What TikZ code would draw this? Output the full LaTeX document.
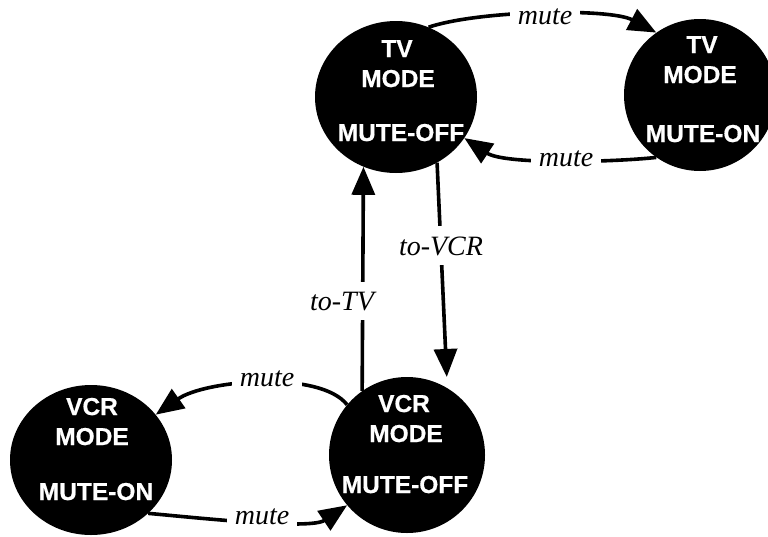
\documentclass[tikz,border=0pt]{standalone}
\usepackage{fontspec}
\usetikzlibrary{arrows.meta,shapes.geometric}
\newfontfamily\statefont{Liberation Sans}[BoldFeatures={FakeBold=0.6}]
\newfontfamily\edgefont{Liberation Serif}
\tikzset{
  state/.style={ellipse, fill=black, draw=none, inner sep=0pt},
  caption/.style={text=white, anchor=base, inner sep=0pt,
    font=\statefont\bfseries\fontsize{24.5}{28}\selectfont},
  trans/.style={line width=3.6pt, -{Triangle[length=28pt,width=23pt]}},
  lbl/.style={fill=white, anchor=base, inner xsep=8pt, inner ysep=4pt,
    font=\edgefont\itshape\fontsize{28}{30}\selectfont},
  vlbl/.style={lbl, inner xsep=3pt, inner ysep=10pt},
}
\begin{document}
\begin{tikzpicture}[x=1pt,y=-1pt]
\path[use as bounding box] (0,0) rectangle (768,536);

% states
\node[state, minimum width=162pt, minimum height=152pt] (tvoff) at (396,97) {};
\node[state, minimum width=152pt, minimum height=152pt] (tvon) at (700,95) {};
\node[state, minimum width=162pt, minimum height=150pt] (vcron) at (91,460) {};
\node[state, minimum width=156pt, minimum height=156pt] (vcroff) at (407,455) {};

% state captions
\node[caption] (tvoff-a) at (397,57) {TV};
\node[caption] (tvoff-b) at (398,87) {MODE};
\node[caption] (tvoff-c) at (401,141) {MUTE-OFF};

\node[caption] (tvon-a) at (702,53) {TV};
\node[caption] (tvon-b) at (700,83) {MODE};
\node[caption] (tvon-c) at (703,142) {MUTE-ON};

\node[caption] (vcron-a) at (92,415) {VCR};
\node[caption] (vcron-b) at (92,445) {MODE};
\node[caption] (vcron-c) at (96,500) {MUTE-ON};

\node[caption] (vcroff-a) at (404,412) {VCR};
\node[caption] (vcroff-b) at (406,442) {MODE};
\node[caption] (vcroff-c) at (405,493) {MUTE-OFF};

% transitions
\draw[trans] (tvoff.65) .. controls (480,10) and (610,8) .. (tvon.125);
\draw[trans] (tvon.235) .. controls (615,162) and (505,165) .. (tvoff.-31);
\draw[trans, shorten >=11pt] (tvoff.-58) -- (vcroff.59);
\draw[trans] (vcroff.125) -- (tvoff.245);
\draw[trans] (vcroff.140) .. controls (320,370) and (205,380) .. (vcron.35);
\draw[trans] (vcron.-43) .. controls (200,518) and (310,530) .. (vcroff.220);

% transition labels
\node[lbl] (l-tvmute) at (545,24) {mute};
\node[lbl] (l-tvunmute) at (566,166) {mute};
\node[vlbl] (l-tovcr) at (441,255) {to-VCR};
\node[vlbl] (l-totv) at (342,310) {to-TV};
\node[lbl] (l-vcrmute) at (267,386) {mute};
\node[lbl] (l-vcrunmute) at (262,524) {mute};
\end{tikzpicture}
\end{document}
